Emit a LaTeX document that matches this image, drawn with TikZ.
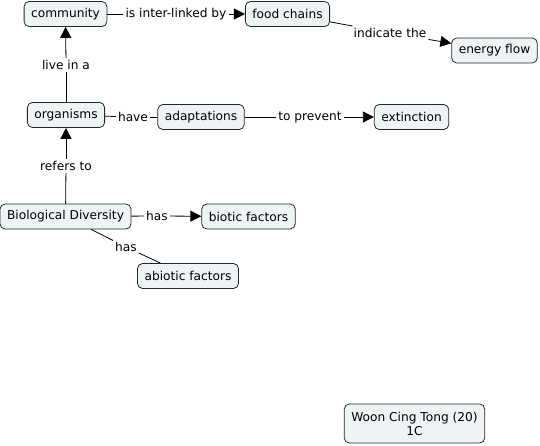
\documentclass[tikz,border=0pt]{standalone}
\usepackage{fontspec}
\setmainfont{DejaVu Sans}
\usetikzlibrary{arrows.meta}

\definecolor{conceptfill}{HTML}{EEF3F5}

\tikzset{
  concept/.style={draw=black!85, fill=conceptfill, rounded corners=5pt, line width=0.8pt,
    minimum height=25pt, inner xsep=7pt, font=\fontsize{12.2}{14}\selectfont},
  linkphrase/.style={fill=white, inner sep=2pt, font=\fontsize{12.2}{14}\selectfont},
  link/.style={line width=0.8pt},
  linkarrow/.style={line width=0.8pt, -{Triangle[length=11pt,width=11pt]}}
}

\begin{document}
\begin{tikzpicture}[x=1pt,y=-1pt]
\useasboundingbox (0,0) rectangle (540,446);
% concepts
\node[concept] (community) at (65.5,14) {community};
\node[concept] (foodchains) at (287.5,14) {food chains};
\node[concept] (energyflow) at (494.5,50.5) {energy flow};
\node[concept] (organisms) at (66,115) {organisms};
\node[concept] (adaptations) at (201,117) {adaptations};
\node[concept] (extinction) at (411.5,117) {extinction};
\node[concept] (biodiv) at (65.5,216.5) {Biological Diversity};
\node[concept] (biotic) at (248.5,216.5) {biotic factors};
\node[concept] (abiotic) at (188,276) {abiotic factors};
\node[concept, align=center, minimum height=39pt] (author) at (414.5,423.5) {Woon Cing Tong (20)\\1C};
% linking phrases
\node[linkphrase] (interlinked) at (176,14) {is inter-linked by};
\node[linkphrase] (indicate) at (390,33) {indicate the};
\node[linkphrase] (livein) at (66,65) {live in a};
\node[linkphrase] (have) at (133,117) {have};
\node[linkphrase] (prevent) at (310,117) {to prevent};
\node[linkphrase] (refers) at (66,166) {refers to};
\node[linkphrase] (hasbiotic) at (157,216) {has};
\node[linkphrase] (hasabiotic) at (126,247) {has};
% connectors
\draw[link] (community) -- (interlinked);
\draw[linkarrow] (interlinked) -- (foodchains);
\draw[link] (foodchains) -- (indicate);
\draw[linkarrow] (indicate) -- (energyflow);
\draw[link] (organisms) -- (livein);
\draw[linkarrow] (livein) -- (community);
\draw[link] (organisms) -- (have);
\draw[link] (have) -- (adaptations);
\draw[link] (adaptations) -- (prevent);
\draw[linkarrow] (prevent) -- (extinction);
\draw[link] (biodiv) -- (refers);
\draw[linkarrow] (refers) -- (organisms);
\draw[link] (biodiv) -- (hasbiotic);
\draw[linkarrow] (hasbiotic) -- (biotic);
\draw[link] (biodiv) -- (hasabiotic);
\draw[link] (hasabiotic) -- (abiotic);
\end{tikzpicture}
\end{document}
